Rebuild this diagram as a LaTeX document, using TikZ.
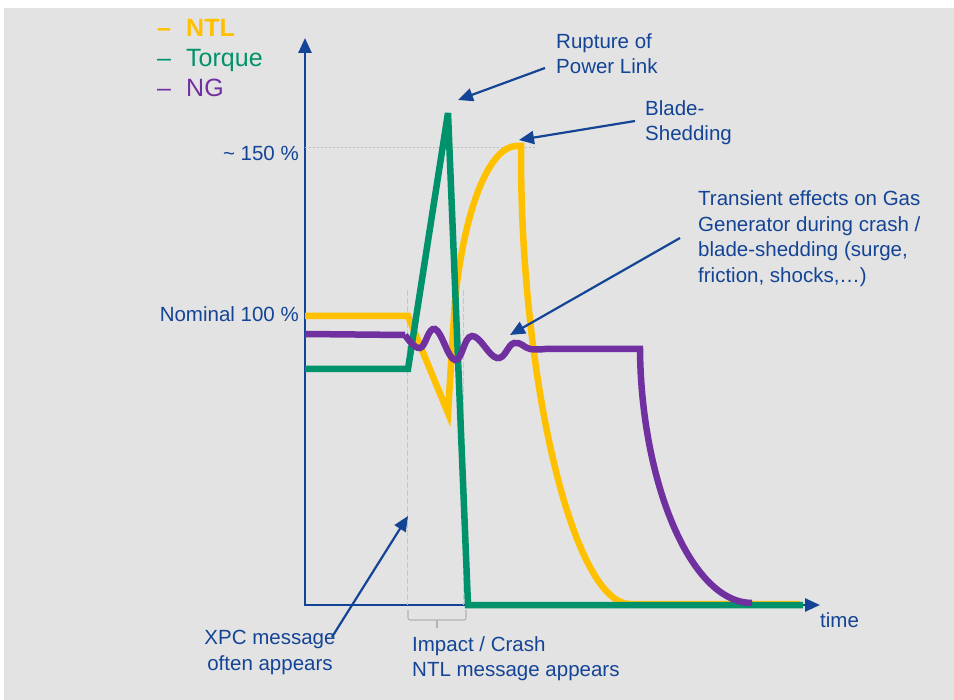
\documentclass[tikz,border=0pt]{standalone}
\usepackage{fontspec}
\setmainfont{Liberation Sans}
\usetikzlibrary{arrows.meta}

\definecolor{ntlyellow}{RGB}{255,192,0}
\definecolor{torquegreen}{RGB}{0,146,106}
\definecolor{ngpurple}{RGB}{112,48,160}
\definecolor{axisblue}{RGB}{20,68,150}
\definecolor{panelgray}{RGB}{227,227,227}

\begin{document}
\begin{tikzpicture}[
    x=1pt,y=-1pt,
    label/.style={inner sep=0pt,text=axisblue,align=left,
      font=\fontsize{20.5}{25.5}\selectfont},
    legend/.style={inner sep=0pt,anchor=base west,font=\fontsize{25}{30}\selectfont},
    curve/.style={line width=6.5pt},
    callout/.style={draw=axisblue,line width=2.2pt,
      -{Triangle[length=15pt,width=13pt]}},
    guide/.style={draw=black!22,line width=0.8pt,dash pattern=on 6pt off 2pt},
    bracket/.style={draw=black!30,line width=1.1pt,rounded corners=2pt}
]
\useasboundingbox (0,0) rectangle (954,700);
\fill[panelgray] (4,8) rectangle (954,700);

% axes
\coordinate (origin) at (305,605);
\coordinate (yTop) at (305,38);
\coordinate (xEnd) at (820,605);
\draw[axisblue,line width=2.6pt,
  {Triangle[length=15pt,width=13pt]}-{Triangle[length=15pt,width=13pt]}]
  (yTop) -- (origin) -- (xEnd);

% legend
\node[legend,text=ntlyellow,font=\fontsize{25}{30}\selectfont\bfseries] (dashNTL) at (157,37) {–};
\node[legend,text=torquegreen] (dashTorque) at (157,67) {–};
\node[legend,text=ngpurple] (dashNG) at (157,97) {–};
\node[legend,text=ntlyellow,font=\fontsize{25}{30}\selectfont\bfseries] (legNTL) at (186,37) {NTL};
\node[legend,text=torquegreen] (legTorque) at (186,67) {Torque};
\node[legend,text=ngpurple] (legNG) at (186,97) {NG};

% axis marks
\node[label,anchor=east] (pct150) at (299,153) {\textasciitilde\ 150 \%};
\node[label,anchor=east] (nominal) at (299,314) {Nominal 100 \%};
\node[label,anchor=west] (timeLbl) at (820,620) {time};
\draw[draw=black!25,line width=0.9pt,dash pattern=on 2pt off 2pt] (305,147) -- (537,147);

% crash window
\draw[guide] (407,290) -- (407,605);
\draw[guide] (463,290) -- (463,605);
\draw[bracket] (408,610) -- (408,620) -- (466,620) -- (466,610);
\draw[bracket] (437,620) -- (437,628);

% NTL
\draw[curve,ntlyellow] (305,316) -- (408,316) -- (448,413) -- (455,300)
  .. controls (465,205) and (490,147) .. (516,146) -- (521,146) -- (521,160)
  .. controls (522,390) and (575,604) .. (630,604) -- (800,604);

% Torque
\draw[curve,torquegreen] (305,369) -- (408,369) -- (448,113) -- (468,605) -- (803,605);

% NG
\draw[curve,ngpurple] (305,334) -- (405,335)
  plot[smooth,tension=0.7] coordinates {(405,335) (420,348) (435,329) (455,360)
    (472,336) (497,358) (514,343) (530,349) (545,349)}
  -- (640,349) .. controls (641,480) and (690,603) .. (752,603);

% annotations
\node[label,anchor=west] (rupture) at (556,53.5) {Rupture of\\Power Link};
\node[label,anchor=west] (blade) at (645,122.5) {Blade-\\Shedding};
\node[label,anchor=west] (transient) at (698,238.5)
  {Transient effects on Gas\\Generator during crash /\\blade-shedding (surge,\\friction, shocks,\ldots)};
\node[label,align=center] (xpc) at (270,652.5) {XPC message\\often appears};
\node[label,anchor=west] (impact) at (412,658.5) {Impact / Crash\\NTL message appears};

\coordinate (ruptTail) at (545,68);
\coordinate (ruptTip) at (458,100);
\coordinate (bladeTail) at (635,121);
\coordinate (bladeTip) at (519,140);
\coordinate (transTail) at (680,238);
\coordinate (transTip) at (510,335);
\coordinate (xpcTail) at (332,637);
\coordinate (xpcTip) at (408,516);

\draw[callout] (ruptTail) -- (ruptTip);
\draw[callout] (bladeTail) -- (bladeTip);
\draw[callout] (transTail) -- (transTip);
\draw[callout] (xpcTail) -- (xpcTip);
\end{tikzpicture}
\end{document}
